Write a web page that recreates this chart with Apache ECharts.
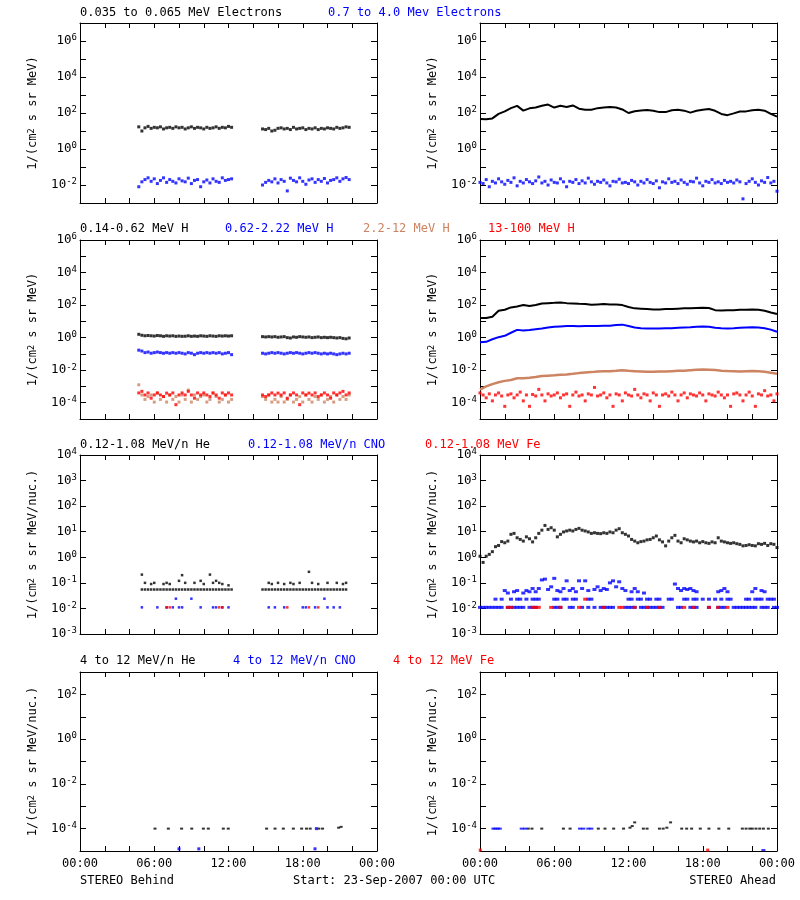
<!DOCTYPE html>
<html>
<head>
<meta charset="utf-8">
<script src="https://cdn.jsdelivr.net/npm/echarts@6/dist/echarts.min.js"></script>
<style>html,body{margin:0;padding:0;background:#fff;}#c{width:800px;height:900px;}</style>
</head>
<body>
<div id="c"></div>
<script>
const _ = null;
// ---------- STEREO Behind (left), 15-min samples in two data segments ----------
// segment A starts 04:45, segment B starts 14:45
const eBlackB_A = [17,10,15,18,14,16,15,17,13,15,16,14,17,15,16,13,15,17,14,16,15,13,16,14,15,17,14,16,15,18,16];
const eBlackB_B = [13,12,14,10,11,14,15,13,14,12,16,13,14,15,12,14,13,15,12,14,13,15,14,13,16,14,15,17,16];
const eBlueB_A = [0.008,0.015,0.02,0.025,0.016,0.022,0.012,0.018,0.025,0.014,0.02,0.016,0.013,0.022,0.017,0.015,0.024,0.012,0.018,0.02,0.008,0.015,0.019,0.013,0.022,0.016,0.014,0.025,0.018,0.02,0.022];
const eBlueB_B = [0.01,0.014,0.018,0.015,0.022,0.013,0.02,0.016,0.0047,0.024,0.018,0.015,0.025,0.016,0.011,0.019,0.022,0.014,0.02,0.016,0.023,0.013,0.018,0.02,0.025,0.016,0.022,0.026,0.02];
const hBlackB_A = [1.6,1.4,1.3,1.35,1.3,1.25,1.35,1.3,1.2,1.3,1.25,1.3,1.2,1.25,1.2,1.22,1.3,1.2,1.25,1.2,1.3,1.25,1.2,1.3,1.25,1.2,1.3,1.25,1.3,1.25,1.3];
const hBlackB_B = [1.15,1.1,1.15,1.1,1.15,1.05,1.1,1.15,1.0,0.95,1.1,1.05,1.15,1.1,1.05,1.1,1.0,1.05,1.1,1.0,1.05,1.0,1.05,1.0,0.95,1.0,0.9,0.85,0.95];
const hBlueB_A = [0.17,0.15,0.12,0.13,0.11,0.12,0.13,0.12,0.11,0.12,0.11,0.12,0.11,0.12,0.11,0.1,0.12,0.11,0.09,0.11,0.12,0.11,0.12,0.11,0.12,0.11,0.12,0.1,0.11,0.12,0.09];
const hBlueB_B = [0.11,0.1,0.11,0.12,0.11,0.12,0.11,0.1,0.11,0.12,0.11,0.12,0.11,0.1,0.11,0.12,0.11,0.12,0.11,0.1,0.11,0.1,0.11,0.1,0.09,0.1,0.11,0.1,0.11];
const hBrownB_A = [1.26e-3,3e-4,1.6e-4,2.4e-4,3e-4,1.1e-4,3.9e-4,1.6e-4,2.4e-4,1.1e-4,3e-4,1.6e-4,2.4e-4,1.1e-4,3e-4,1.6e-4,6e-4,1.1e-4,3e-4,1.6e-4,2.4e-4,3e-4,1.1e-4,1.6e-4,3.9e-4,2.4e-4,1.1e-4,1.6e-4,3e-4,1.1e-4,1.6e-4];
const hBrownB_B = [2.4e-4,1.6e-4,3e-4,1.1e-4,1.6e-4,1.1e-4,2.4e-4,1.1e-4,1.6e-4,3e-4,1.1e-4,1.6e-4,2.4e-4,1.1e-4,3e-4,1.6e-4,1.1e-4,2.4e-4,1.6e-4,3e-4,1.1e-4,1.6e-4,2.4e-4,1.1e-4,3e-4,1.6e-4,2.4e-4,1.6e-4,3e-4];
const hRedB_A = [4e-4,5e-4,3e-4,4e-4,1.9e-4,3e-4,4e-4,3e-4,2.4e-4,3.9e-4,3e-4,4e-4,7.6e-5,3e-4,4e-4,3e-4,5e-4,3e-4,1.9e-4,4e-4,3e-4,4e-4,3e-4,2.4e-4,4e-4,3e-4,1.9e-4,4e-4,3e-4,4e-4,3e-4];
const hRedB_B = [3e-4,2.4e-4,3e-4,4e-4,3e-4,3.9e-4,3e-4,4e-4,1.9e-4,3e-4,4e-4,3e-4,7.6e-5,4e-4,3e-4,3.9e-4,3e-4,4e-4,2.4e-4,3e-4,4e-4,3e-4,1.9e-4,4e-4,3e-4,4e-4,5e-4,3e-4,4e-4];
const heLowB_A = [_,0.055,0.055,0.055,0.055,0.055,0.055,0.055,0.055,0.055,0.055,0.055,0.055,0.055,0.055,0.055,0.055,0.055,0.055,0.055,0.055,0.055,0.055,0.055,0.055,0.055,0.055,0.055,0.055,0.055,0.055];
const heLowB_B = [0.055,0.055,0.055,0.055,0.055,0.055,0.055,0.055,0.055,0.055,0.055,0.055,0.055,0.055,0.055,0.055,0.055,0.055,0.055,0.055,0.055,0.055,0.055,0.055,0.055,0.055,0.055,0.055,_];
const heHiB_A = [_,0.21,0.1,_,0.09,0.1,_,_,0.09,0.1,0.09,_,_,0.12,0.2,0.1,_,_,0.1,_,0.12,0.09,_,0.21,0.1,0.12,0.1,0.09,_,0.08,_];
const heHiB_B = [_,_,0.1,0.09,_,0.1,_,0.09,_,0.1,0.09,_,0.1,_,_,0.27,0.1,_,0.09,_,_,0.1,_,_,0.1,_,0.09,0.1,_];
const cnoB_A = [_,0.011,_,_,_,_,0.011,_,_,0.011,_,0.011,0.024,0.011,0.011,_,_,0.024,_,_,0.011,_,_,_,0.011,0.011,_,0.011,_,0.011,_];
const cnoB_B = [_,_,0.011,_,0.011,_,_,0.011,_,_,_,_,_,0.011,0.011,_,_,0.011,_,_,0.024,0.011,_,0.011,_,0.011,_,_,_];
const feB_A = [_,_,_,_,_,_,_,_,_,0.011,0.011,_,_,_,_,_,_,_,_,_,_,_,_,_,_,_,0.011,0.011,_,_,_];
const feB_B = [_,_,_,_,_,_,_,_,0.011,_,_,_,_,_,_,0.011,_,_,0.011,_,_,_,_,_,_,_,_,_,_];
// [hour, value]
const he4B = [[6.06,1e-4],[7.14,1e-4],[8.21,1e-4],[9.03,1e-4],[9.97,1e-4],[10.37,1e-4],[11.58,1e-4],[11.98,1e-4],[15.08,1e-4],[15.76,1e-4],[16.43,1e-4],[17.24,1e-4],[17.91,1e-4],[18.3,1e-4],[18.6,1e-4],[19.3,1e-4],[19.6,1e-4],[20.9,1.1e-4],[21.1,1.2e-4]];
const cno4B = [[8.0,1.25e-5],[9.6,1.25e-5],[18.99,1.25e-5],[19.1,1e-4]];

// ---------- STEREO Ahead (right) ----------
// 30-min samples from 00:00
const eBlackA = [47,45,50,89,123,186,250,135,182,204,250,295,200,250,214,263,174,151,151,186,204,214,204,158,100,126,138,145,132,112,112,141,151,135,105,132,151,166,132,89,76,95,120,123,141,151,135,89,63];
const hBlackA = [16,16,19,45,52,72,83,100,87,100,126,132,138,145,132,126,120,115,105,110,115,110,110,100,76,63,60,57,54,54,57,57,60,63,63,66,69,66,49,47,49,49,52,52,54,52,45,35,28];
const hBlueA = [0.52,0.55,0.8,1.07,1.3,2.0,3.0,2.7,2.9,3.3,3.6,4.2,4.7,4.9,5.1,5.1,5.0,5.1,5.2,5.2,5.4,5.4,5.9,6.3,5.2,4.2,3.8,3.7,3.7,3.7,3.8,3.8,4.0,4.2,4.3,4.6,4.8,4.7,4.0,3.8,3.7,3.8,4.0,4.2,4.3,4.2,3.8,3.1,2.3];
const hBrownA = [6.3e-4,1.0e-3,1.4e-3,1.8e-3,2.2e-3,2.5e-3,3.2e-3,3.2e-3,3.4e-3,3.8e-3,4.4e-3,4.6e-3,4.8e-3,5.2e-3,5.5e-3,6.0e-3,6.6e-3,7.2e-3,7.6e-3,8.3e-3,8.5e-3,8.7e-3,9.1e-3,1.0e-2,9.1e-3,8.7e-3,8.3e-3,7.9e-3,7.9e-3,8.3e-3,8.3e-3,8.7e-3,9.1e-3,9.3e-3,1.0e-2,1.07e-2,1.1e-2,1.07e-2,1.02e-2,9.3e-3,8.9e-3,8.7e-3,8.3e-3,8.7e-3,8.9e-3,8.7e-3,7.9e-3,6.9e-3,6.0e-3];
// 15-min samples from 00:00
const eBlueA = [0.014,0.012,0.02,0.008,0.016,0.013,0.022,0.015,0.011,0.018,0.014,0.025,0.009,0.016,0.013,0.02,0.015,0.012,0.017,0.028,0.013,0.016,0.01,0.019,0.014,0.013,0.022,0.015,0.008,0.016,0.014,0.02,0.012,0.017,0.013,0.024,0.015,0.011,0.016,0.014,0.019,0.013,0.009,0.016,0.015,0.021,0.013,0.014,0.012,0.018,0.015,0.01,0.016,0.013,0.02,0.014,0.012,0.017,0.007,0.015,0.013,0.022,0.014,0.016,0.012,0.019,0.014,0.011,0.016,0.015,0.024,0.013,0.009,0.016,0.014,0.02,0.013,0.015,0.012,0.018,0.014,0.016,0.013,0.019,0.015,0.0017,0.012,0.016,0.022,0.014,0.01,0.017,0.014,0.026,0.013,0.016,0.0045];
const hRedA = [4e-4,3e-4,2e-4,3.5e-4,1.3e-4,3e-4,4e-4,2.6e-4,6e-5,3e-4,3.5e-4,2e-4,3e-4,4.5e-4,1.3e-4,3e-4,6e-5,3.2e-4,2.6e-4,6.6e-4,3e-4,1.3e-4,3.5e-4,2.6e-4,3e-4,4e-4,2e-4,3e-4,3.5e-4,6e-5,3e-4,4.5e-4,2.6e-4,3e-4,1.3e-4,3.5e-4,3e-4,8.7e-4,2.6e-4,3e-4,4e-4,2e-4,3e-4,6e-5,3.5e-4,3e-4,1.3e-4,4e-4,3e-4,2.6e-4,6.6e-4,3e-4,2e-4,3.5e-4,3e-4,1.3e-4,4e-4,3e-4,6e-5,3e-4,3.5e-4,2.6e-4,4.5e-4,3e-4,1.3e-4,3e-4,4e-4,2e-4,3.5e-4,3e-4,2.6e-4,4e-4,3e-4,1.3e-4,3.5e-4,3e-4,2.6e-4,4.5e-4,3e-4,2e-4,3e-4,6e-5,3.5e-4,4e-4,3e-4,1.3e-4,3e-4,4.5e-4,2.6e-4,6e-5,3.5e-4,3e-4,5.5e-4,2.6e-4,3e-4,1.3e-4,3.5e-4];
const heA = [1.1,0.63,1.1,1.3,1.66,2.6,2.9,4.1,3.7,4.3,7.9,8.6,5.8,5.0,4.3,6.3,5.3,4.0,5.8,8.6,11.5,17.6,12.3,14.3,11.5,6.3,7.9,9.8,10.7,11.5,10.7,12.3,13.5,11.5,10.7,9.8,8.6,9.1,8.6,8.4,9.1,8.6,9.8,9.1,11.5,13.1,9.1,7.9,6.8,5.0,4.3,3.7,4.1,4.3,4.8,5.0,5.8,6.8,4.8,4.0,2.8,4.3,5.8,7.2,4.3,3.7,5.3,4.8,4.3,4.0,4.3,3.7,4.1,3.7,3.5,4.0,3.7,5.8,4.3,4.0,3.7,3.5,3.7,3.4,3.2,2.8,2.9,3.1,2.9,2.8,3.4,3.2,3.5,2.9,3.4,3.2,2.4];
const cnoHiA = [_,_,_,_,_,_,_,_,0.05,0.04,_,0.045,0.05,_,0.04,0.05,0.045,0.06,0.045,0.06,0.13,0.14,0.055,0.07,0.15,0.05,0.045,0.06,0.12,0.05,0.06,0.045,0.12,0.06,0.12,0.05,_,0.055,0.07,0.05,0.06,0.055,0.1,0.12,0.07,0.11,0.06,0.05,_,0.045,0.06,0.045,_,0.04,_,_,_,_,_,_,_,_,_,0.09,0.06,0.05,0.06,0.055,0.06,0.05,0.045,_,_,_,_,_,_,0.045,0.05,0.06,0.045,_,_,_,_,_,_,_,0.045,0.06,_,0.05,0.045,_,_,_,_];
const cnoMidA = [_,_,_,_,_,0.023,_,0.023,_,_,0.023,_,0.023,0.023,_,0.023,_,0.023,0.023,0.023,_,_,_,_,0.023,0.023,_,0.023,0.023,_,0.023,0.023,_,_,_,0.023,0.023,_,_,_,_,_,_,_,_,_,_,_,0.023,0.023,_,0.023,0.023,_,0.023,0.023,_,0.023,0.023,_,_,0.023,0.023,_,_,_,0.023,0.023,_,0.023,0.023,_,0.023,_,0.023,_,0.023,_,0.023,_,0.023,0.023,_,_,_,_,0.023,0.023,_,0.023,0.023,0.023,_,0.023,0.023,0.023,_];
const cnoLowA = [0.011,0.011,0.011,0.011,0.011,0.011,0.011,0.011,_,0.011,0.011,0.011,0.011,0.011,0.011,_,0.011,0.011,0.011,_,_,_,_,_,0.011,0.011,0.011,_,_,0.011,0.011,_,_,0.011,_,0.011,_,0.011,_,0.011,0.011,0.011,0.011,0.011,_,_,_,0.011,0.011,0.011,0.011,_,0.011,0.011,0.011,0.011,0.011,0.011,0.011,0.011,_,_,_,_,0.011,0.011,_,_,0.011,0.011,0.011,_,_,_,0.011,_,_,0.011,0.011,0.011,_,_,0.011,0.011,0.011,0.011,0.011,0.011,0.011,0.011,_,0.011,0.011,0.011,_,0.011,0.011];
const feA = [_,_,_,_,_,_,_,_,_,0.011,0.011,_,_,_,_,_,_,0.011,0.011,0.011,_,_,_,0.011,_,_,0.011,_,_,_,_,_,0.011,_,0.023,_,_,_,_,_,0.011,_,_,_,_,0.011,0.011,_,_,_,0.011,_,_,_,0.011,_,_,_,0.011,_,_,_,_,_,_,_,0.011,_,_,0.011,_,_,_,_,0.011,_,_,0.011,_,_,0.011,_,_,_,_,_,_,_,_,_,_,_,_,_,_,_,_];
// [hour, value]
const he4A = [[3.9,1e-4],[4.2,1e-4],[4.99,1e-4],[6.74,1e-4],[7.28,1e-4],[9.56,1e-4],[10.1,1e-4],[10.8,1e-4],[11.6,1e-4],[12.12,1.1e-4],[12.3,1.3e-4],[12.5,1.9e-4],[13.2,1e-4],[13.5,1e-4],[14.5,1e-4],[14.8,1e-4],[15.1,1.1e-4],[15.4,1.9e-4],[16.3,1e-4],[16.7,1e-4],[17.1,1e-4],[17.8,1e-4],[18.5,1e-4],[19.3,1e-4],[20.1,1e-4],[21.2,1e-4],[21.5,1e-4],[21.8,1e-4],[22.0,1e-4],[22.3,1e-4],[22.6,1e-4],[22.9,1e-4],[23.3,1e-4]];
const cno4A = [[1.08,1e-4],[1.25,1e-4],[1.43,1e-4],[1.6,1e-4],[3.37,1e-4],[3.64,1e-4],[8.08,1e-4],[8.35,1e-4],[8.75,1e-4],[9.0,1e-4],[22.9,1.1e-5]];
const fe4A = [[0.02,1.1e-5],[18.4,1.1e-5]];

const hourTicks = ['00:00','06:00','12:00','18:00','00:00'];

// ---------- layout / style ----------
const FF = '"DejaVu Sans Mono", monospace';
const BLACK = '#000000', BLUE = '#0000ff', BROWN = '#cd8462', RED = '#ff0000';
function seq(start, step, n) { const a = []; for (let i = 0; i < n; i++) a.push(start + i * step); return a; }
const tB_A = seq(4.75, 0.25, 31), tB_B = seq(14.75, 0.25, 29);
const t15 = seq(0, 0.25, 97), t30 = seq(0, 0.5, 49);
function pts(times, vals) { const o = []; vals.forEach((v, i) => { if (v != null && times[i] != null) o.push([times[i], Math.log10(v)]); }); return o; }
function pp(arr) { return arr.map(p => [p[0], Math.log10(p[1])]); }

const rows = [
  {top: 23, h: 180, min: -3, max: 7, all: false, unit: 'MeV'},
  {top: 240, h: 179, min: -5, max: 6, all: false, unit: 'MeV'},
  {top: 455, h: 179, min: -3, max: 4, all: true, unit: 'MeV/nuc.'},
  {top: 672, h: 179, min: -5, max: 3, all: false, unit: 'MeV/nuc.'}
];
const cols = [80, 480];
const grid = [], xAxis = [], yAxis = [], series = [];
const lineStyle = {color: '#000', width: 1};
rows.forEach((r, ri) => {
  cols.forEach((left, ci) => {
    const p = ri * 2 + ci;
    grid.push({left: left, top: r.top, width: 297, height: r.h});
    const xBase = {gridIndex: p, type: 'value', min: 0, max: 24, interval: 2,
      axisLine: {onZero: false, lineStyle}, axisTick: {inside: true, length: 5, lineStyle},
      splitLine: {show: false}};
    xAxis.push(Object.assign({}, xBase, {position: 'bottom',
      axisLabel: {show: ri === 3, margin: 7, color: '#000', fontFamily: FF, fontSize: 12,
        formatter: v => (Math.round(v) % 6 === 0 ? hourTicks[Math.round(v) / 6] : '')}}));
    xAxis.push(Object.assign({}, xBase, {position: 'top', axisLabel: {show: false}}));
    const yBase = {gridIndex: p, type: 'value', min: r.min, max: r.max, interval: 1,
      axisLine: {onZero: false, lineStyle}, axisTick: {inside: true, length: 6, lineStyle},
      splitLine: {show: false}};
    const rich = {
      b: {fontFamily: FF, fontSize: 12.5, color: '#000', lineHeight: 15},
      s: {fontFamily: FF, fontSize: 9, color: '#000', lineHeight: 9, verticalAlign: 'top'}
    };
    yAxis.push(Object.assign({}, yBase, {position: 'left',
      axisLabel: {margin: 3, formatter: v => { const e = Math.round(v); if (!r.all && e % 2 !== 0) return ''; return '{b|10}{s|' + e + '}'; }, rich},
      name: '1/(cm{s|2} s sr ' + r.unit + ')', nameLocation: 'middle', nameGap: 41,
      nameTextStyle: {fontFamily: FF, fontSize: 12, color: '#000', rich: {s: {fontFamily: FF, fontSize: 8.5, color: '#000', lineHeight: 8, verticalAlign: 'top'}}}}));
    yAxis.push(Object.assign({}, yBase, {position: 'right', axisLabel: {show: false}}));
  });
});
function sc(p, data, color, size) {
  series.push({type: 'scatter', xAxisIndex: 2 * p, yAxisIndex: 2 * p, data, symbol: 'rect', symbolSize: size,
    itemStyle: {color}, silent: true, animation: false, z: 2});
}
function ln(p, data, color, w) {
  series.push({type: 'line', xAxisIndex: 2 * p, yAxisIndex: 2 * p, data, showSymbol: false, symbol: 'none',
    lineStyle: {color, width: w}, silent: true, animation: false, z: 2});
}
// Row 1
sc(0, pts(tB_A, eBlackB_A).concat(pts(tB_B, eBlackB_B)), BLACK, 3);
sc(0, pts(tB_A, eBlueB_A).concat(pts(tB_B, eBlueB_B)), BLUE, 3);
ln(1, pts(t30, eBlackA), BLACK, 2);
sc(1, pts(t15, eBlueA), BLUE, 3);
// Row 2
sc(2, pts(tB_A, hBlackB_A).concat(pts(tB_B, hBlackB_B)), BLACK, 3);
sc(2, pts(tB_A, hBlueB_A).concat(pts(tB_B, hBlueB_B)), BLUE, 3);
sc(2, pts(tB_A, hBrownB_A).concat(pts(tB_B, hBrownB_B)), BROWN, 3);
sc(2, pts(tB_A, hRedB_A).concat(pts(tB_B, hRedB_B)), RED, 3);
ln(3, pts(t30, hBlackA), BLACK, 2);
ln(3, pts(t30, hBlueA), BLUE, 2);
ln(3, pts(t30, hBrownA), BROWN, 2.5);
sc(3, pts(t15, hRedA), RED, 3);
// Row 3
sc(4, pts(tB_A, heLowB_A).concat(pts(tB_B, heLowB_B), pts(tB_A, heHiB_A), pts(tB_B, heHiB_B)), BLACK, 2.5);
sc(4, pts(tB_A, cnoB_A).concat(pts(tB_B, cnoB_B)), BLUE, 2.5);
sc(4, pts(tB_A, feB_A).concat(pts(tB_B, feB_B)), RED, 2.5);
sc(5, pts(t15, heA), BLACK, 3);
sc(5, pts(t15, cnoHiA).concat(pts(t15, cnoMidA), pts(t15, cnoLowA)), BLUE, [4, 3]);
sc(5, pts(t15, feA), RED, [4, 3]);
// Row 4
sc(6, pp(he4B), BLACK, [3, 2]);
sc(6, pp(cno4B), BLUE, [3, 3]);
sc(7, pp(he4A), BLACK, [3, 2]);
sc(7, pp(cno4A), BLUE, [4, 2]);
sc(7, pp(fe4A), RED, [3, 3]);

const texts = [
  {x: 80, y: 13, t: '0.035 to 0.065 MeV Electrons', c: BLACK},
  {x: 328, y: 13, t: '0.7 to 4.0 Mev Electrons', c: BLUE},
  {x: 80, y: 229, t: '0.14-0.62 MeV H', c: BLACK},
  {x: 225, y: 229, t: '0.62-2.22 MeV H', c: BLUE},
  {x: 363, y: 229, t: '2.2-12 MeV H', c: BROWN},
  {x: 488, y: 229, t: '13-100 MeV H', c: RED},
  {x: 80, y: 445, t: '0.12-1.08 MeV/n He', c: BLACK},
  {x: 248, y: 445, t: '0.12-1.08 MeV/n CNO', c: BLUE},
  {x: 425, y: 445, t: '0.12-1.08 MeV Fe', c: RED},
  {x: 80, y: 661, t: '4 to 12 MeV/n He', c: BLACK},
  {x: 233, y: 661, t: '4 to 12 MeV/n CNO', c: BLUE},
  {x: 393, y: 661, t: '4 to 12 MeV Fe', c: RED},
  {x: 80, y: 881, t: 'STEREO Behind', c: BLACK},
  {x: 293, y: 881, t: 'Start: 23-Sep-2007 00:00 UTC', c: BLACK},
  {x: 776, y: 881, t: 'STEREO Ahead', c: BLACK, a: 'right'}
];
const graphic = texts.map(o => ({type: 'text', x: o.x, y: o.y, silent: true,
  style: {text: o.t, fill: o.c, font: '12px ' + FF, align: o.a || 'left', verticalAlign: 'middle'}}));

const chart = echarts.init(document.getElementById('c'), null, {renderer: 'canvas'});
chart.setOption({animation: false, backgroundColor: '#fff', grid, xAxis, yAxis, series, graphic});
</script>
</body>
</html>
